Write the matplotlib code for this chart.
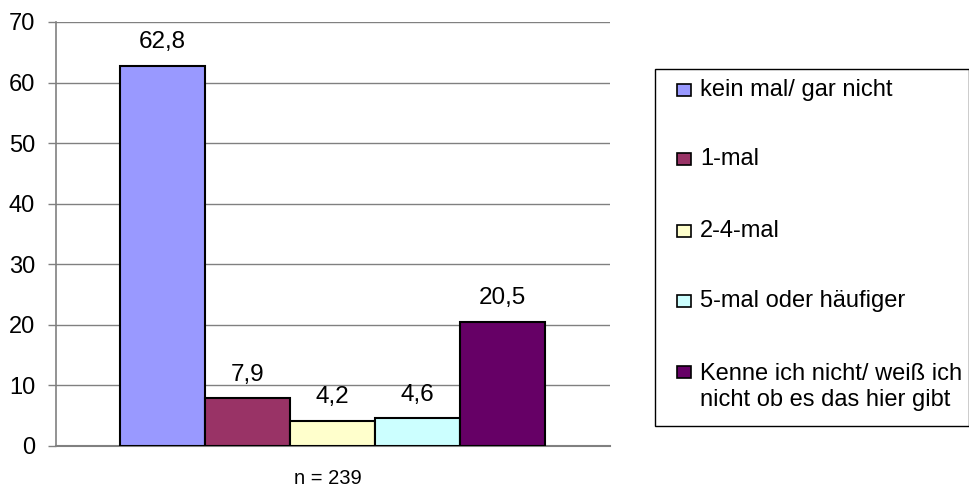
import matplotlib
matplotlib.use("Agg")
import matplotlib.pyplot as plt
from matplotlib.patches import Rectangle

plt.rcParams['font.family'] = ['Liberation Sans', 'DejaVu Sans']

categories = ["kein mal/ gar nicht", "1-mal", "2-4-mal", "5-mal oder häufiger",
              "Kenne ich nicht/ weiß ich\nnicht ob es das hier gibt"]
values = [62.8, 7.9, 4.2, 4.6, 20.5]
colors = ["#9999FF", "#993366", "#FFFFCC", "#CCFFFF", "#660066"]
yticks = [0, 10, 20, 30, 40, 50, 60, 70]
note = "n = 239"

W, H = 970, 488
fig = plt.figure(figsize=(W / 100, H / 100), dpi=100)
ax = fig.add_axes([56 / W, 1 - 446 / H, (610 - 56) / W, (446 - 22) / H])

x = list(range(len(values)))
ax.bar(x, values, width=1.0, color=colors, edgecolor="black", linewidth=1.5, zorder=3)
for xi, v in zip(x, values):
    ax.text(xi, v + 3.9, f"{v:.1f}".replace(".", ","), ha="center", va="center",
            fontsize=17.5, zorder=4)

ax.set_xlim(-0.5 - 64 / 85, 4.5 + 65 / 85)
ax.set_ylim(0, 70)
ax.set_yticks(yticks)
ax.set_yticklabels([str(t) for t in yticks], fontsize=17)
ax.set_xticks([])
ax.yaxis.grid(True, color="#808080", linewidth=1, zorder=0)
for s in ["top", "right"]:
    ax.spines[s].set_visible(False)
ax.spines["left"].set_color("#808080")
ax.spines["bottom"].set_color("#808080")
ax.spines["left"].set_linewidth(1.2)
ax.spines["bottom"].set_linewidth(1.5)
ax.tick_params(axis="y", length=6, color="#808080", width=1, pad=9)

fig.text(328 / W, 1 - 478 / H, note, ha="center", va="center", fontsize=14.5)

# legend box
fig.patches.append(Rectangle((655 / W, 1 - 426 / H), (969 - 655) / W, (426 - 69) / H,
                             transform=fig.transFigure, facecolor="white",
                             edgecolor="black", linewidth=1))
entry_y = [90, 159, 231, 301, 372]
for yc, lab, col in zip(entry_y, categories, colors):
    fig.patches.append(Rectangle((677 / W, 1 - (yc + 6) / H), 14 / W, 12 / H,
                                 transform=fig.transFigure, facecolor=col,
                                 edgecolor="black", linewidth=1.2))
    if "\n" in lab:
        fig.text(700 / W, 1 - (yc + 15) / H, lab, ha="left", va="center",
                 fontsize=17, linespacing=1.27)
    else:
        fig.text(700 / W, 1 - yc / H, lab, ha="left", va="center", fontsize=17)

fig.savefig("out.png", dpi=100)
